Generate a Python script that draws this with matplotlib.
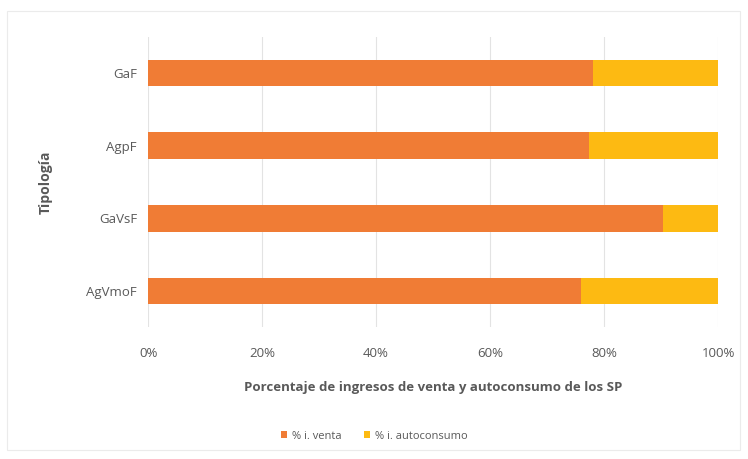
import matplotlib.pyplot as plt
from matplotlib.patches import Rectangle

# tipologias de sistemas productivos (de abajo hacia arriba)
tipologias = ['AgVmoF', 'GaVsF', 'AgpF', 'GaF']
pct_venta = [76, 90.4, 77.3, 78]
pct_autoconsumo = [100 - v for v in pct_venta]

ticks = [0, 20, 40, 60, 80, 100]
tick_labels = ['0%', '20%', '40%', '60%', '80%', '100%']

naranja = '#F07C35'
amarillo = '#FDBA12'
gris = '#595959'

plt.rcParams['font.family'] = ['Open Sans', 'DejaVu Sans']

fig = plt.figure(figsize=(7.48, 4.59), dpi=100)
ax = fig.add_axes([0.198, 0.287, 0.762, 0.633])

ax.barh(tipologias, pct_venta, height=0.37, color=naranja, label='% i. venta', zorder=3)
ax.barh(tipologias, pct_autoconsumo, left=pct_venta, height=0.37, color=amarillo,
        label='% i. autoconsumo', zorder=3)

ax.set_xlim(0, 100)
ax.set_ylim(-0.5, 3.5)
ax.set_xticks(ticks)
ax.set_xticklabels(tick_labels, fontsize=9.5, color=gris)
ax.tick_params(axis='x', length=0, pad=14)
ax.tick_params(axis='y', length=0, pad=8, labelsize=9.5, labelcolor=gris)
ax.grid(axis='x', color='#E3E3E3', linewidth=0.8, zorder=0)
for s in ax.spines.values():
    s.set_visible(False)

ax.set_xlabel('Porcentaje de ingresos de venta y autoconsumo de los SP', fontsize=9.5,
              fontweight='bold', color=gris, labelpad=15)
ax.set_ylabel('Tipología', fontsize=10, fontweight='bold', color=gris, labelpad=24)

fig.legend(loc='center', bbox_to_anchor=(0.5, 0.05), ncol=2, frameon=False,
           fontsize=8, labelcolor=gris, handlelength=0.6, handleheight=0.6,
           columnspacing=2.0, handletextpad=0.4)

# marco del grafico
fig.patches.append(Rectangle((0.009, 0.02), 0.98, 0.955, transform=fig.transFigure,
                             fill=False, edgecolor='#EBEBEB', linewidth=0.8))

fig.savefig('out.png', dpi=100)
